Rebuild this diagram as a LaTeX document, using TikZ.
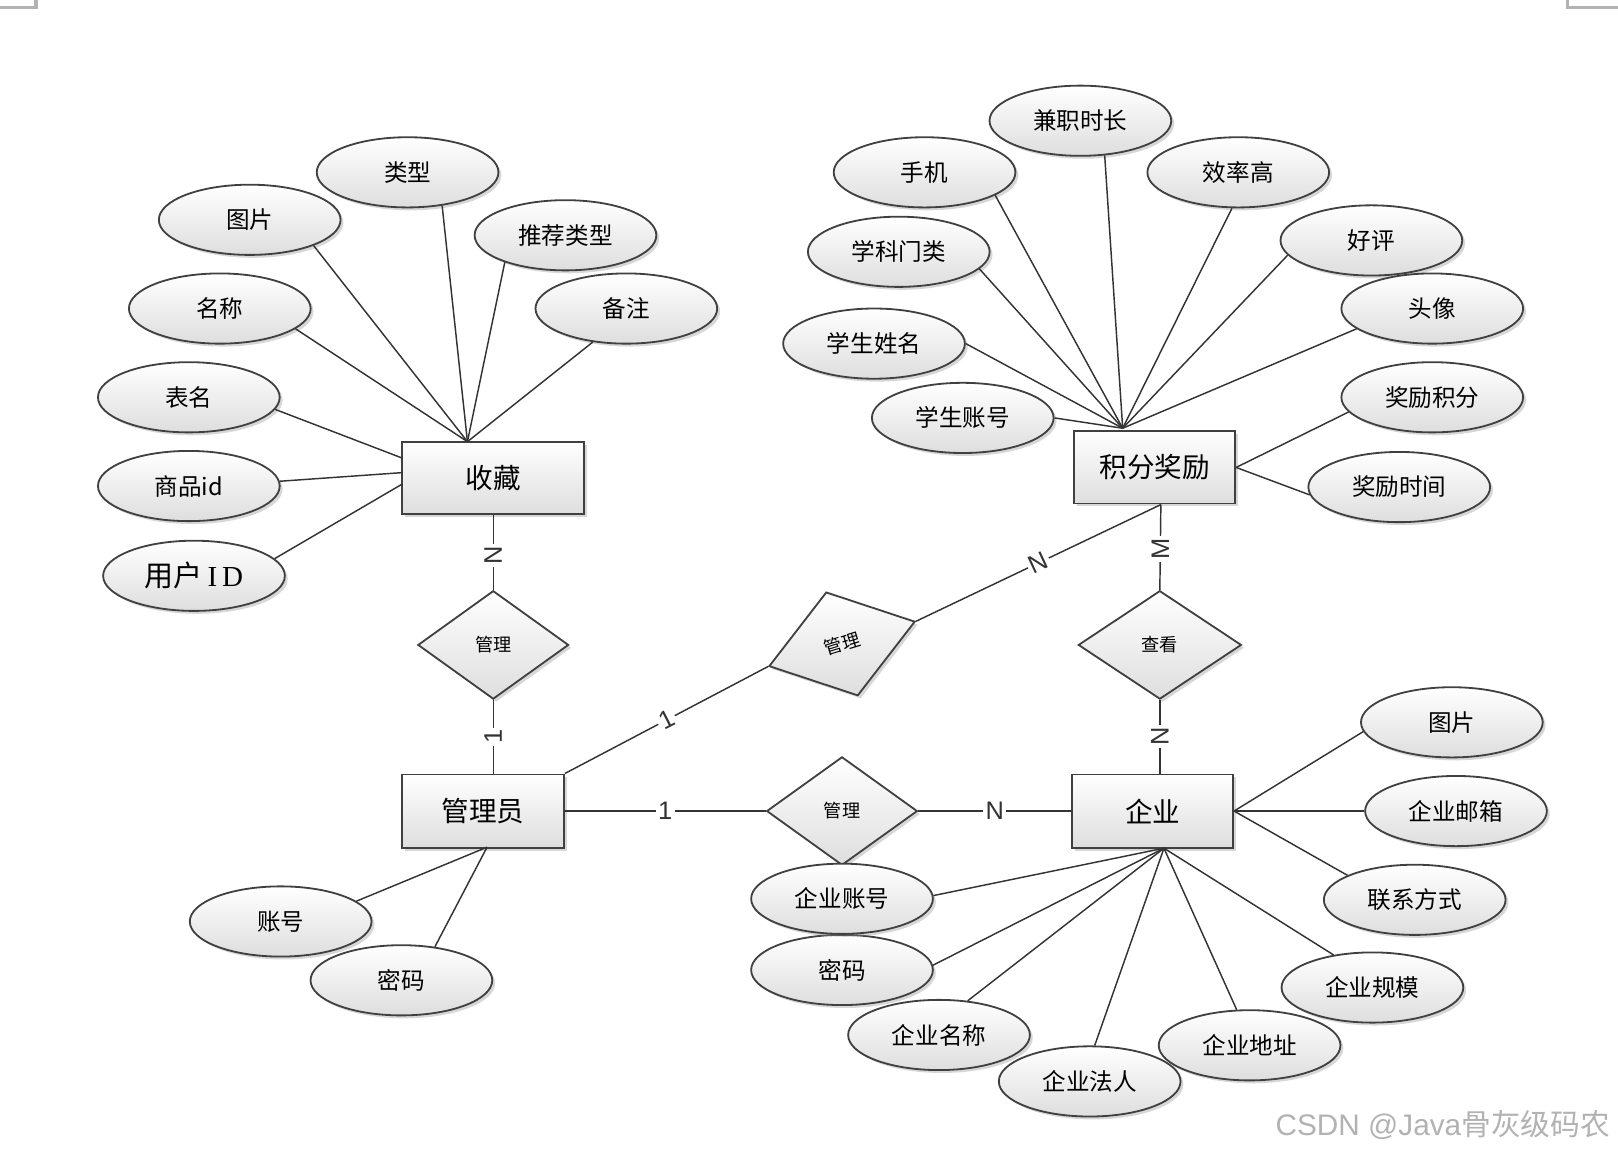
\documentclass[tikz,border=0pt]{standalone}
\usepackage{fontspec}
\setmainfont{Liberation Sans}
\newfontfamily\cjk{Noto Sans CJK SC}
\newfontfamily\idfont{Liberation Serif}
\usetikzlibrary{shapes.geometric}
\usetikzlibrary{shadows}

\begin{document}
\begin{tikzpicture}[x=0.01cm,y=-0.01cm,
	shade/.style={top color=white,bottom color=black!13,draw=black!75,line width=0.5pt,
		drop shadow={shadow xshift=0.8pt,shadow yshift=-0.8pt,fill=black!45,opacity=0.35}},
	attr/.style={shade,ellipse,minimum width=1.76cm,minimum height=0.68cm,inner sep=0pt,
		font=\fontsize{6.5}{7}\cjk},
	entity/.style={shade,rectangle,minimum height=0.7cm,inner sep=0pt,font=\fontsize{7.6}{8}\cjk},
	rel/.style={shade,diamond,inner sep=0pt,minimum width=1.46cm,minimum height=1.05cm,
		font=\fontsize{5}{6}\cjk},
	edge/.style={black!80,line width=0.4pt},
	card/.style={fill=white,inner sep=0.6pt,font=\fontsize{7}{8}\selectfont}]
	\useasboundingbox (0,0) rectangle (1568,1118);
	\draw[black!30,line width=0.9pt] (0,7) -- (35,7) -- (35,0);
	\draw[black!30,line width=0.9pt] (1519,0) -- (1519,7) -- (1568,7);

	% entities
	\node[entity,minimum width=1.76cm] (sc) at (478,463) {收藏};
	\node[entity,minimum width=1.56cm] (jf) at (1119,453) {积分奖励};
	\node[entity,minimum width=1.57cm,minimum height=0.71cm] (gly) at (468,786) {管理员};
	\node[entity,minimum width=1.56cm,minimum height=0.71cm] (qy) at (1117,786) {企业};

	% relations
	\node[rel] (r1) at (478,625) {管理};
	\node[rel,minimum width=1.58cm] (r2) at (1124,625) {查看};
	\node[rel,minimum width=1.48cm,rotate=17] (r3) at (816,624) {管理};
	\node[rel] (r4) at (816,786) {管理};

	% attributes of 收藏
	\node[attr] (a1) at (395,167) {类型};
	\node[attr] (a2) at (242,213) {图片};
	\node[attr] (a3) at (548,228) {推荐类型};
	\node[attr] (a4) at (213,299) {名称};
	\node[attr] (a5) at (607,299) {备注};
	\node[attr] (a6) at (183,385) {表名};
	\node[attr] (a7) at (183,471) {商品id};
	\node[attr,font=\fontsize{8}{9}\cjk] (a8) at (188,558) {用户{\idfont\,I\,D}};

	% attributes of 积分奖励
	\node[attr] (b1) at (896,167) {手机};
	\node[attr] (b2) at (1047,117) {兼职时长};
	\node[attr] (b3) at (1200,167) {效率高};
	\node[attr] (b4) at (871,244) {学科门类};
	\node[attr] (b5) at (1329,233) {好评};
	\node[attr] (b6) at (847,333) {学生姓名};
	\node[attr] (b7) at (1388,299) {头像};
	\node[attr] (b8) at (933,405) {学生账号};
	\node[attr] (b9) at (1388,385) {奖励积分};
	\node[attr] (b10) at (1356,472) {奖励时间};

	% attributes of 管理员
	\node[attr] (c1) at (272,893) {账号};
	\node[attr] (c2) at (389,950) {密码};

	% attributes of 企业
	\node[attr] (d1) at (1407,700) {图片};
	\node[attr] (d2) at (1411,786) {企业邮箱};
	\node[attr] (d3) at (1371,872) {联系方式};
	\node[attr] (d4) at (1330,957) {企业规模};
	\node[attr] (d5) at (1211,1013) {企业地址};
	\node[attr] (d6) at (1056,1048) {企业法人};
	\node[attr] (d7) at (910,1003) {企业名称};
	\node[attr] (d8) at (816,940) {密码};
	\node[attr] (d9) at (816,871) {企业账号};

	\coordinate (sctop) at (453,428);
	\coordinate (scl1) at (390,444);
	\coordinate (scl2) at (390,458);
	\coordinate (scl3) at (390,469);
	\coordinate (jftop) at (1088,415);
	\coordinate (jfbot) at (1125,489);
	\coordinate (glybot) at (472,821);
	\coordinate (qybot) at (1128,822);

	\foreach \a/\t in {a1/-44,a2/-22,a3/-156,a4/-15,a5/-135}
		\draw[edge] (\a.\t) -- (sctop);
	\draw[edge] (a6.-8) -- (scl1);
	\draw[edge] (a7.3) -- (scl2);
	\draw[edge] (a8.12) -- (scl3);
	\foreach \b/\t in {b1/-18,b2/-55,b3/-100,b4/-12,b5/-170,b6/0,b7/-165,b8/0}
		\draw[edge] (\b.\t) -- (jftop);
	\draw[edge] (b9.-170) -- (jf.east);
	\draw[edge] (b10.-175) -- (jf.east);
	\draw[edge] (c1.15) -- (glybot);
	\draw[edge] (c2.45) -- (glybot);
	\draw[edge] (d1.186) -- (qy.east);
	\draw[edge] (d2.west) -- (qy.east);
	\draw[edge] (d3.160) -- (qy.east);
	\foreach \d/\t in {d4/140,d5/110,d6/82,d7/50,d8/3,d9/2}
		\draw[edge] (\d.\t) -- (qybot);

	% relationships
	\draw[edge] (sc.south) -- node[card,rotate=90,pos=.54] {N} (r1.north);
	\draw[edge] (r1.south) -- node[card,rotate=90] {1} (r1.south |- gly.north);
	\draw[edge] (gly.north east) -- node[card,rotate=27] {1} (r3.west);
	\draw[edge] (r3.east) -- node[card,rotate=25] {N} (jfbot);
	\draw[edge] (jfbot) -- node[card,rotate=90,pos=.52] {M} (r2.north);
	\draw[edge] (r2.south) -- node[card,rotate=90] {N} (r2.south |- qy.north);
	\draw[edge] (gly.east) -- node[card] {1} (r4.west);
	\draw[edge] (r4.east) -- node[card] {N} (qy.west);

	\node[anchor=east,inner sep=0pt,text=black!30,font=\fontsize{8.2}{9}\selectfont] (wm) at (1561,1090) {CSDN @Java{\cjk 骨灰级码农}};
\end{tikzpicture}
\end{document}
